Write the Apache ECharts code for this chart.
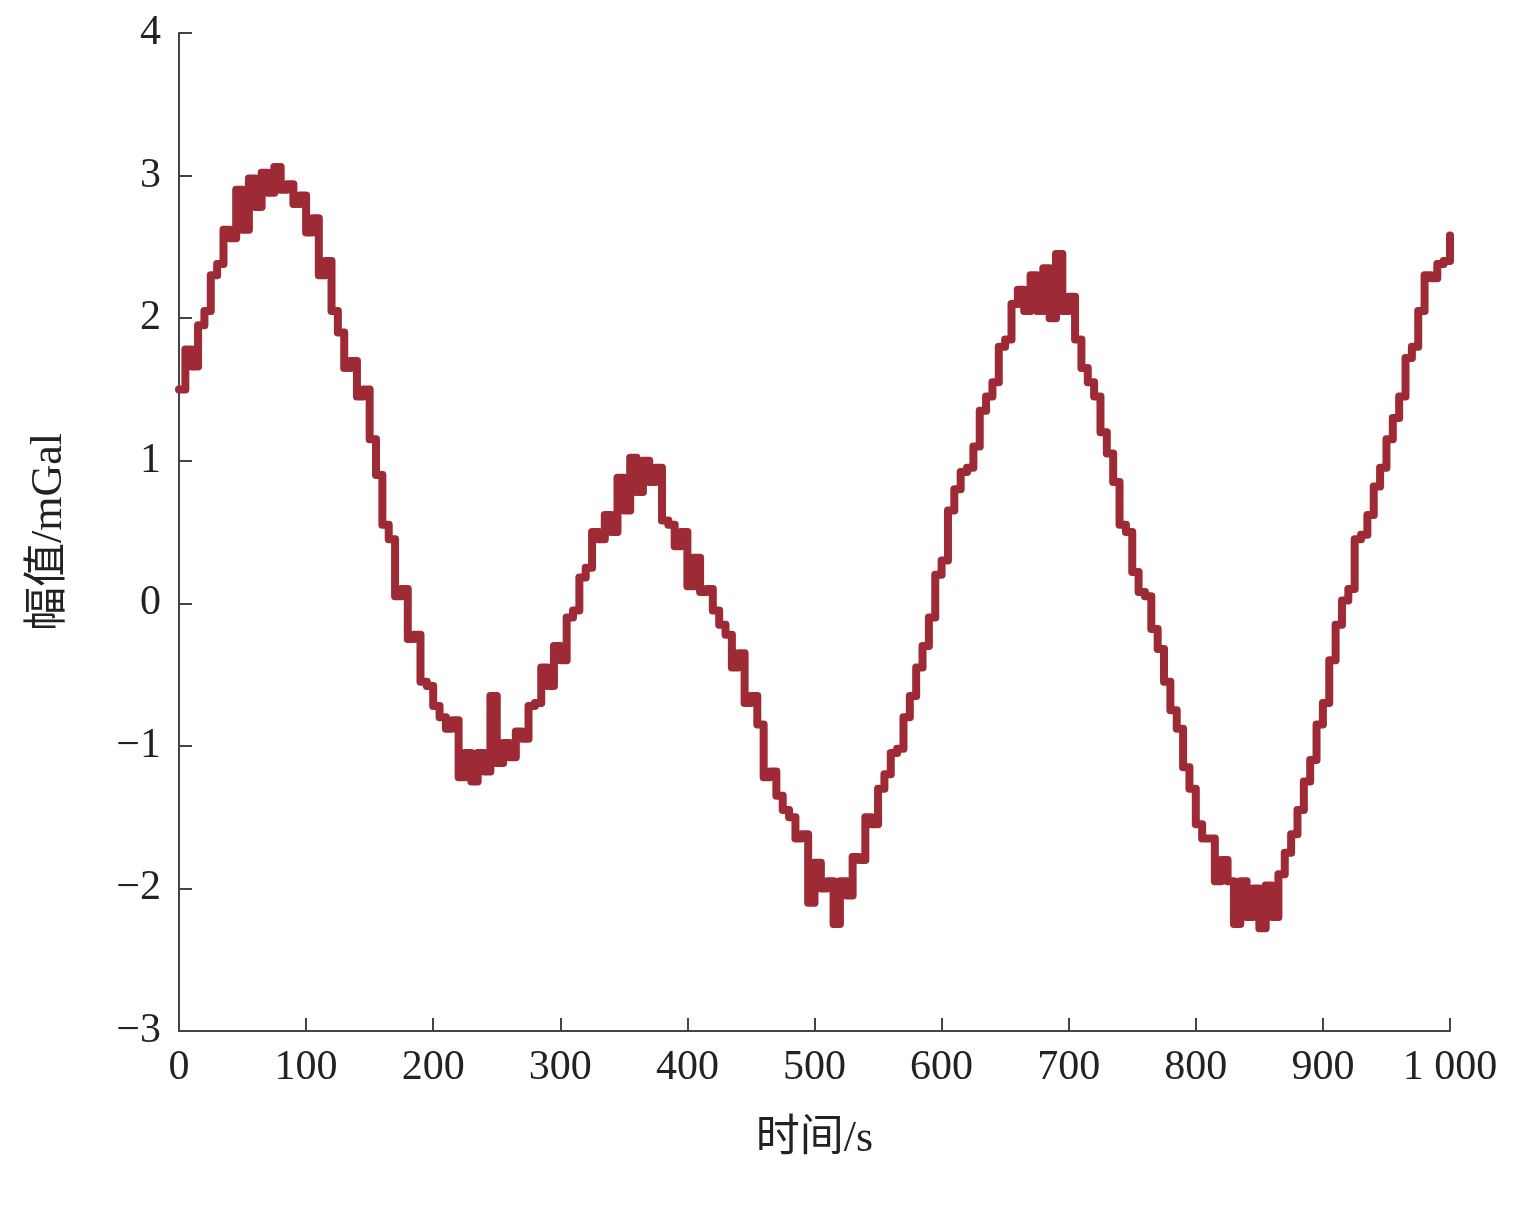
<!DOCTYPE html>
<html><head><meta charset="utf-8">
<script src="https://cdn.jsdelivr.net/npm/echarts@6/dist/echarts.min.js"></script>
<style>html,body{margin:0;padding:0;background:#fff;}#c{width:1521px;height:1210px;}</style>
</head><body><div id="c"></div>
<script>
const timeStep = 5;
const amplitude = [
1.50,1.78,1.66,1.95,2.05,2.30,2.38,2.62,2.56,2.90,
2.62,2.98,2.78,3.02,2.88,3.06,2.90,2.94,2.80,2.86,
2.60,2.70,2.30,2.40,2.05,1.90,1.65,1.70,1.45,1.50,
1.15,0.90,0.55,0.45,0.05,0.10,-0.25,-0.22,-0.55,-0.58,
-0.72,-0.80,-0.88,-0.82,-1.22,-1.05,-1.25,-1.05,-1.18,-0.65,
-1.12,-0.98,-1.08,-0.90,-0.95,-0.72,-0.70,-0.45,-0.58,-0.30,
-0.40,-0.10,-0.05,0.18,0.25,0.50,0.45,0.62,0.50,0.88,
0.65,1.02,0.78,1.00,0.85,0.95,0.58,0.55,0.40,0.50,
0.12,0.32,0.08,0.10,-0.05,-0.15,-0.22,-0.45,-0.35,-0.70,
-0.65,-0.85,-1.22,-1.18,-1.35,-1.45,-1.50,-1.65,-1.62,-2.10,
-1.82,-2.00,-1.95,-2.25,-1.95,-2.05,-1.78,-1.80,-1.50,-1.55,
-1.30,-1.20,-1.05,-1.02,-0.80,-0.65,-0.45,-0.30,-0.10,0.20,
0.30,0.65,0.80,0.92,0.95,1.10,1.35,1.45,1.55,1.80,
1.85,2.10,2.20,2.05,2.30,2.05,2.35,2.00,2.45,2.05,
2.15,1.85,1.65,1.55,1.45,1.20,1.05,0.85,0.55,0.50,
0.22,0.08,0.05,-0.18,-0.32,-0.55,-0.75,-0.88,-1.15,-1.30,
-1.55,-1.65,-1.65,-1.95,-1.80,-1.95,-2.25,-1.95,-2.20,-2.00,
-2.28,-1.98,-2.20,-1.90,-1.75,-1.62,-1.45,-1.25,-1.10,-0.85,
-0.70,-0.40,-0.15,0.02,0.10,0.45,0.48,0.62,0.82,0.95,
1.15,1.30,1.45,1.72,1.80,2.05,2.30,2.28,2.38,2.40,
2.58
];
const xTicks = [0,100,200,300,400,500,600,700,800,900,1000];
const yTicks = [-3,-2,-1,0,1,2,3,4];

const data = amplitude.map((v,i)=>[i*timeStep, v]);
const FONT = "'Liberation Serif','Noto Sans CJK SC',serif";
const chart = echarts.init(document.getElementById('c'), null, {renderer:'canvas'});
chart.setOption({
  backgroundColor:'#fff',
  animation:false,
  grid:{left:179,right:71,top:33,bottom:179},
  xAxis:{type:'value',min:0,max:1000,interval:100,
    name:'时间/s',nameLocation:'middle',nameGap:86,
    nameTextStyle:{fontFamily:FONT,fontSize:44,color:'#222'},
    axisLine:{onZero:false,lineStyle:{color:'#444',width:2}},
    axisTick:{inside:true,length:13,lineStyle:{color:'#444',width:2}},
    axisLabel:{margin:16,fontFamily:FONT,fontSize:42,color:'#222',
      formatter:v=>v>=1000? String(v).replace(/(\d)(\d{3})$/,'$1 $2') : String(v)},
    splitLine:{show:false}},
  yAxis:{type:'value',min:-3,max:4,interval:1,
    name:'幅值/mGal',nameLocation:'middle',nameGap:108,
    nameTextStyle:{fontFamily:FONT,fontSize:44,color:'#222'},
    axisLine:{onZero:false,lineStyle:{color:'#444',width:2}},
    axisTick:{inside:true,length:13,lineStyle:{color:'#444',width:2}},
    axisLabel:{margin:18,fontFamily:FONT,fontSize:42,color:'#222',
      formatter:v=>v<0? '\u2212'+Math.abs(v) : String(v)},
    splitLine:{show:false}},
  series:[{type:'line',data:data,step:'end',symbol:'none',
    lineStyle:{color:'#9e2a35',width:8,join:'round',cap:'round'}}]
});
</script></body></html>
